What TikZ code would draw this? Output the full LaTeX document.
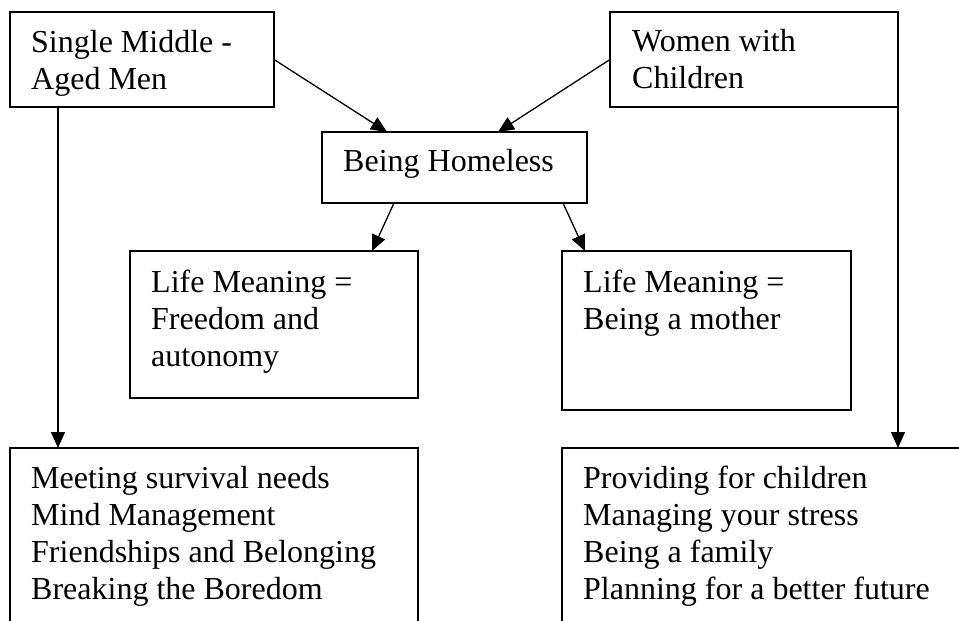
\documentclass[tikz,border=0pt]{standalone}
\usepackage{fontspec}
\setmainfont{Liberation Serif}
\usetikzlibrary{arrows.meta,calc}
\begin{document}
\begin{tikzpicture}[x=1pt,y=-1pt,
  box/.style={draw,line width=1.3pt,anchor=north west,inner sep=0pt,outer sep=0pt},
  txt/.style={anchor=base west,inner sep=0pt,align=left,font=\fontsize{32}{37}\selectfont},
  arr/.style={line width=1.3pt,-{Triangle[length=16pt,width=14pt]}}]
\clip (0,0) rectangle (959,621);
\fill[white] (0,0) rectangle (959,621);
% boxes
\node[box,minimum width=264pt,minimum height=95pt] (A) at (10,12) {};
\node[box,minimum width=288pt,minimum height=95pt] (B) at (610,12) {};
\node[box,minimum width=265pt,minimum height=71pt] (home) at (322,132) {};
\node[box,minimum width=288pt,minimum height=147pt] (lifeL) at (130,251) {};
\node[box,minimum width=289pt,minimum height=159pt] (lifeR) at (562,251) {};
\node[box,minimum width=408pt,minimum height=200pt] (botL) at (10,448) {};
\node[box,minimum width=420pt,minimum height=200pt] (botR) at (562,448) {};
% texts (anchored at the baseline of the last line)
\node[txt] (tA) at (31,89) {Single Middle -\\Aged Men};
\node[txt] (tB) at (632,88) {Women with\\Children};
\node[txt] (tH) at (343,171) {Being Homeless};
\node[txt] (tL) at (151,366) {Life Meaning =\\Freedom and\\autonomy};
\node[txt] (tR) at (583,329) {Life Meaning =\\Being a mother};
\node[txt] (tBL) at (31,599) {Meeting survival needs\\Mind Management\\Friendships and Belonging\\Breaking the Boredom};
\node[txt] (tBR) at (583,599) {Providing for children\\Managing your stress\\Being a family\\Planning for a better future};
% connectors
\draw[arr] (A.east) -- ([xshift=65pt]home.north west);
\draw[arr] (B.west) -- ([xshift=-89pt]home.north east);
\draw[arr] ([xshift=72pt]home.south west) -- ([xshift=-46pt]lifeL.north east);
\draw[arr] ([xshift=-24pt]home.south east) -- ([xshift=23pt]lifeR.north west);
\draw[arr] ([xshift=48pt]A.south west) -- ([xshift=48pt]botL.north west);
\draw[arr] (B.south east) -- ([xshift=336pt]botR.north west);
\end{tikzpicture}
\end{document}
